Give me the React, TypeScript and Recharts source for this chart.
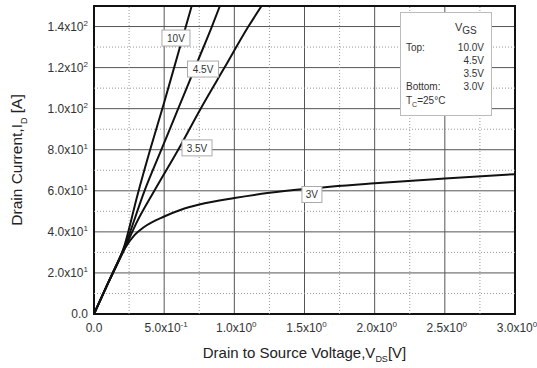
import React from 'react';
import {
  CartesianGrid,
  Line,
  LineChart,
  ReferenceArea,
  ReferenceDot,
  ReferenceLine,
  XAxis,
  YAxis,
} from 'recharts';

// output characteristics
const vds10 = [0, 0.1, 0.22, 0.31, 0.4, 0.5, 0.6, 0.696];
const id10 = [0, 15, 34, 58, 80, 103, 127, 150];
const vds45 = [0, 0.1, 0.22, 0.36, 0.48, 0.6, 0.72, 0.84, 0.897];
const id45 = [0, 15, 33, 60, 80, 100, 120, 140, 150];
const vds35 = [0, 0.1, 0.22, 0.3, 0.43, 0.6, 0.76, 0.93, 1.1, 1.194];
const id35 = [0, 15, 32, 44, 60, 80, 100, 120, 140, 150];
const vds30 = [0, 0.1, 0.22, 0.29, 0.36, 0.5, 0.62, 0.75, 1.0, 1.25, 1.5, 2.0, 2.5, 3.0];
const id30 = [0, 15, 32, 38.5, 42.5, 47.5, 50.8, 53.3, 56.5, 59.0, 60.9, 63.7, 66.0, 68.1];

const xTicks = [0, 0.5, 1, 1.5, 2, 2.5, 3];
const xTickMantissa = ['0.0', '5.0', '1.0', '1.5', '2.0', '2.5', '3.0'];
const xTickExp = ['', '-1', '0', '0', '0', '0', '0'];
const yTicks = [0, 20, 40, 60, 80, 100, 120, 140];
const yTickMantissa = ['0.0', '2.0', '4.0', '6.0', '8.0', '1.0', '1.2', '1.4'];
const yTickExp = ['', '1', '1', '1', '1', '2', '2', '2'];
const xMinor = [0.25, 0.75, 1.25, 1.75, 2.25, 2.75];
const yMinor = [10, 30, 50, 70, 90, 110, 130];

const curveLabels = ['10V', '4.5V', '3.5V', '3V'];
const labelAt = [
  { x: 0.584, y: 134.4, w: 28 },
  { x: 0.777, y: 119.3, w: 31 },
  { x: 0.734, y: 80.9, w: 30 },
  { x: 1.553, y: 58.2, w: 20 },
];

const legendRows = [
  ['Top:', '10.0V'],
  ['', '4.5V'],
  ['', '3.5V'],
  ['Bottom:', '3.0V'],
];

const toPoints = (xs: number[], ys: number[]) => xs.map((x, i) => ({ x, y: ys[i] }));
const series = [toPoints(vds10, id10), toPoints(vds45, id45), toPoints(vds35, id35), toPoints(vds30, id30)];

const FONT = '"Liberation Sans", Arial, sans-serif';
const TEXT = '#333';

const SciText = ({ x, y, anchor, m, e }: any) => (
  <text x={x} y={y} textAnchor={anchor} fill={TEXT} fontSize={12} fontFamily={FONT}>
    {e ? `${m}x10` : m}
    {e && (
      <tspan fontSize={8} dy={-5}>
        {e}
      </tspan>
    )}
  </text>
);

const XTick = ({ x, y, payload }: any) => {
  const i = xTicks.indexOf(payload.value);
  return <SciText x={x + (xTickExp[i] ? 2 : 0)} y={y + 18} anchor="middle" m={xTickMantissa[i]} e={xTickExp[i]} />;
};

const YTick = ({ x, y, payload }: any) => {
  const i = yTicks.indexOf(payload.value);
  return <SciText x={x - 6} y={y + 4} anchor="end" m={yTickMantissa[i]} e={yTickExp[i]} />;
};

const CurveTag = (text: string, w: number) => (props: any) => {
  const { cx, cy } = props;
  return (
    <g>
      <rect x={cx - w / 2} y={cy - 8} width={w} height={16} fill="#fff" stroke="#aaa" strokeWidth={1} />
      <text x={cx} y={cy + 4} textAnchor="middle" fontSize={10} fill={TEXT} fontFamily={FONT}>
        {text}
      </text>
    </g>
  );
};

const App = () => (
  <div style={{ position: 'fixed', left: 0, top: 0, width: 537, height: 368, background: '#fff' }}>
    <LineChart width={537} height={368} margin={{ top: 6, right: 22, bottom: 0, left: 0 }}>
      <CartesianGrid stroke="#555" strokeWidth={1} />
      {xMinor.map((v) => (
        <ReferenceLine key={`vx${v}`} x={v} stroke="#999" strokeDasharray="1 2" />
      ))}
      {yMinor.map((v) => (
        <ReferenceLine key={`hy${v}`} y={v} stroke="#999" strokeDasharray="1 2" />
      ))}
      <XAxis
        dataKey="x"
        type="number"
        domain={[0, 3]}
        ticks={xTicks}
        height={54}
        axisLine={false}
        tickLine={false}
        tickSize={0}
        tickMargin={0}
        tick={<XTick />}
        allowDuplicatedCategory={false}
        label={{
          content: ({ viewBox }: any) => (
            <text
              x={viewBox.x + viewBox.width / 2}
              y={358}
              textAnchor="middle"
              fontSize={15}
              fill="#222"
              fontFamily={FONT}
            >
              Drain to Source Voltage,V
              <tspan fontSize={9} dy={4}>
                DS
              </tspan>
              <tspan dy={-4}>[V]</tspan>
            </text>
          ),
        }}
      />
      <YAxis
        type="number"
        domain={[0, 150]}
        ticks={yTicks}
        width={94}
        axisLine={false}
        tickLine={false}
        tickSize={0}
        tickMargin={0}
        tick={<YTick />}
        allowDataOverflow
        label={{
          content: ({ viewBox }: any) => {
            const cy = viewBox.y + viewBox.height / 2;
            return (
              <text
                x={22}
                y={cy}
                transform={`rotate(-90 22 ${cy})`}
                textAnchor="middle"
                fontSize={15.5}
                fill="#222"
                fontFamily={FONT}
              >
                Drain Current,I
                <tspan fontSize={9} dy={5}>
                  D
                </tspan>
                <tspan dy={-5}> [A]</tspan>
              </text>
            );
          },
        }}
      />
      {series.map((pts, i) => (
        <Line
          key={curveLabels[i]}
          data={pts}
          dataKey="y"
          type="monotone"
          stroke="#111"
          strokeWidth={2}
          dot={false}
          activeDot={false}
          isAnimationActive={false}
        />
      ))}
      <ReferenceArea x1={0} x2={3} y1={0} y2={150} fill="none" stroke="#111" strokeWidth={2} />
      {labelAt.map((p, i) => (
        <ReferenceDot key={curveLabels[i]} x={p.x} y={p.y} r={0} shape={CurveTag(curveLabels[i], p.w)} />
      ))}
    </LineChart>
    <svg
      width={92}
      height={104}
      style={{ position: 'absolute', left: 400, top: 12, overflow: 'visible' }}
    >
      <rect x={0.5} y={0.5} width={91} height={103} fill="#fff" stroke="#bbb" />
      <text x={55} y={19} fontSize={11} fill={TEXT} fontFamily={FONT}>
        V
        <tspan fontSize={10} dy={3}>
          GS
        </tspan>
      </text>
      {legendRows.map((r, i) => (
        <g key={i}>
          <text x={6} y={39 + i * 13} fontSize={10} fill={TEXT} fontFamily={FONT}>
            {r[0]}
          </text>
          <text x={84} y={39 + i * 13} textAnchor="end" fontSize={10} fill={TEXT} fontFamily={FONT}>
            {r[1]}
          </text>
        </g>
      ))}
      <text x={6} y={92} fontSize={10} fill={TEXT} fontFamily={FONT}>
        T
        <tspan fontSize={7} dy={3}>
          C
        </tspan>
        <tspan dy={-3}>=25°C</tspan>
      </text>
    </svg>
  </div>
);

export default App;
